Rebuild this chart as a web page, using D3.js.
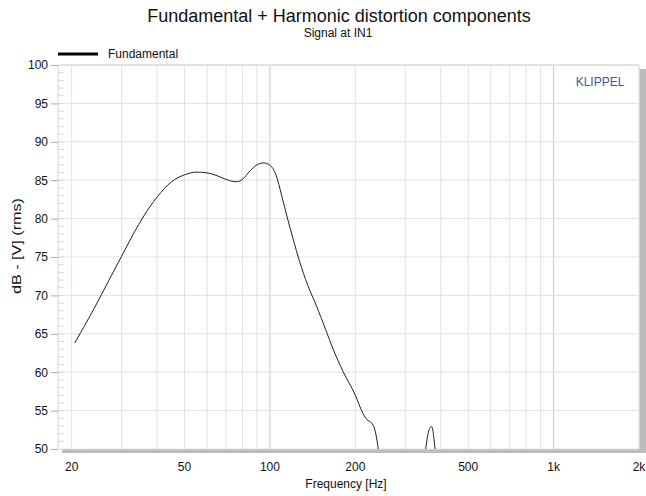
<!DOCTYPE html>
<html>
<head>
<meta charset="utf-8">
<script src="https://cdn.jsdelivr.net/npm/d3@7"></script>
<style>
	body { margin: 0; background: #fff; }
	text { font-family: "Liberation Sans", Arial, sans-serif; }
</style>
</head>
<body>
<div id="chartDiv"></div>
<script>
; (function () {

	var width = 646;
	var height = 496;
	var margin = { top: 65, right: 7, bottom: 47, left: 58 };

	var titleText = "Fundamental + Harmonic distortion components";
	var subtitleText = "Signal at IN1";
	var legendLabel = "Fundamental";
	var xAxisLabelHeader = "Frequency [Hz]";
	var yAxisLabelHeader = "dB - [V] (rms)";

	var xTicks = [20, 50, 100, 200, 500, 1000, 2000];
	var xTickLabels = ["20", "50", "100", "200", "500", "1k", "2k"];
	var yTicks = [50, 55, 60, 65, 70, 75, 80, 85, 90, 95, 100];

	// fundamental curve
	var freq = [20.5, 22, 24, 27, 30, 33, 36, 40, 45, 50, 55, 60, 66, 72, 76, 80, 85, 90, 95, 100,
		105, 110, 115, 121, 127, 136, 146, 157, 167, 181, 200, 213, 220, 228, 234, 238, 242, 250, 280, 320,
		345, 354, 362, 367, 371, 375, 379, 382, 390, 420];
	var level = [63.8, 65.8, 68.3, 71.9, 75.1, 78.0, 80.4, 82.8, 84.8, 85.7, 86.05, 85.95, 85.5, 84.95, 84.8, 85.1, 86.2, 87.0, 87.25, 86.95,
		85.7, 83.0, 80.2, 77.2, 74.5, 71.3, 68.6, 65.6, 63.0, 60.1, 57.0, 54.6, 53.8, 53.4, 52.6, 51.3, 49.5, 46.0, 40.0, 38.0,
		46.0, 50.0, 52.2, 52.8, 52.95, 52.5, 51.2, 50.0, 46.0, 38.0];

	var chart;
	var chartWidth = width - margin.left - margin.right;
	var chartHeight = height - margin.top - margin.bottom;

	chart = d3.select("#chartDiv").append("svg")
		.attr("width", width)
		.attr("height", height);

	chart.xScale = d3.scaleLog()
		.domain([17.9, 2000])
		.range([margin.left, margin.left + chartWidth]);

	chart.yScale = d3.scaleLinear()
		.domain([50, 100])
		.range([margin.top + chartHeight, margin.top]);

	var x = chart.xScale, y = chart.yScale;

	// titles
	chart.append("text")
		.attr("x", 339).attr("y", 22)
		.attr("text-anchor", "middle")
		.style("font-size", "18px")
		.attr("fill", "#111")
		.text(titleText);

	chart.append("text")
		.attr("x", 338).attr("y", 37)
		.attr("text-anchor", "middle")
		.style("font-size", "12px")
		.attr("fill", "#111")
		.text(subtitleText);

	// legend
	chart.append("line")
		.attr("x1", 58).attr("x2", 98).attr("y1", 54).attr("y2", 54)
		.attr("stroke", "#000").attr("stroke-width", 3);
	chart.append("text")
		.attr("x", 108).attr("y", 58)
		.style("font-size", "12px")
		.attr("fill", "#111")
		.text(legendLabel);

	// shadow + plot box
	chart.append("rect")
		.attr("x", margin.left + 4).attr("y", margin.top + 4)
		.attr("width", chartWidth + 4).attr("height", chartHeight)
		.attr("fill", "#bcbcbc");
	chart.append("rect")
		.attr("x", margin.left).attr("y", margin.top)
		.attr("width", chartWidth).attr("height", chartHeight)
		.attr("fill", "#fff");

	// vertical grid
	var gridFreqs = [];
	[10, 100, 1000].forEach(function (d) {
		for (var k = 1; k < 10; k++) {
			var f = d * k;
			if (f >= 20 && f <= 2000) gridFreqs.push(f);
		}
	});
	gridFreqs.push(2000);

	chart.append("g").selectAll("line")
		.data(gridFreqs)
		.join("line")
		.attr("x1", function (d) { return x(d); })
		.attr("x2", function (d) { return x(d); })
		.attr("y1", margin.top)
		.attr("y2", margin.top + chartHeight)
		.attr("stroke", function (d) { return (d === 100 || d === 1000) ? "#c8c8c8" : "#e2e2e2"; })
		.attr("stroke-width", 1);

	// horizontal grid
	chart.append("g").selectAll("line")
		.data(yTicks)
		.join("line")
		.attr("x1", margin.left)
		.attr("x2", margin.left + chartWidth)
		.attr("y1", function (d) { return y(d); })
		.attr("y2", function (d) { return y(d); })
		.attr("stroke", "#e2e2e2")
		.attr("stroke-width", 1);

	// minor y ticks
	chart.append("g").selectAll("line")
		.data(d3.range(51, 100))
		.join("line")
		.attr("x1", margin.left)
		.attr("x2", margin.left + 6)
		.attr("y1", function (d) { return y(d); })
		.attr("y2", function (d) { return y(d); })
		.attr("stroke", "#d8d8d8");

	// plot border (left/top)
	chart.append("path")
		.attr("d", "M" + margin.left + "," + (margin.top + chartHeight) + "V" + margin.top + "H" + (margin.left + chartWidth))
		.attr("fill", "none")
		.attr("stroke", "#d4d4d4");

	// y axis
	chart.yAxis = d3.axisLeft(y)
		.tickValues(yTicks)
		.tickSize(7)
		.tickPadding(3);

	var yg = chart.append("g")
		.attr("transform", "translate(" + margin.left + ",0)")
		.call(chart.yAxis);
	yg.select(".domain").remove();
	yg.selectAll("line").attr("stroke", "#aaa");
	yg.selectAll("text")
		.style("font-size", "12px")
		.style("font-family", "Liberation Sans, Arial, sans-serif")
		.attr("fill", "#111");

	// x axis labels
	chart.append("g").selectAll("text")
		.data(xTicks)
		.join("text")
		.attr("x", function (d) { return x(d); })
		.attr("y", 471)
		.attr("text-anchor", "middle")
		.style("font-size", "12px")
		.attr("fill", "#111")
		.text(function (d, i) { return xTickLabels[i]; });

	chart.append("text")
		.attr("x", 346).attr("y", 488)
		.attr("text-anchor", "middle")
		.style("font-size", "12px")
		.attr("fill", "#111")
		.text(xAxisLabelHeader);

	chart.append("text")
		.attr("text-anchor", "middle")
		.attr("transform", "translate(21," + 246 + ") rotate(-90)")
		.style("font-size", "13px")
		.attr("textLength", 96)
		.attr("lengthAdjust", "spacingAndGlyphs")
		.attr("fill", "#111")
		.text(yAxisLabelHeader);

	chart.append("text")
		.attr("x", 600).attr("y", 86)
		.attr("text-anchor", "middle")
		.style("font-size", "12px")
		.attr("fill", "#3b5aa0")
		.text("KLIPPEL");

	// curve
	chart.append("clipPath").attr("id", "plotClip")
		.append("rect")
		.attr("x", margin.left).attr("y", margin.top)
		.attr("width", chartWidth).attr("height", chartHeight);

	var line = d3.line()
		.x(function (d) { return x(d); })
		.y(function (d, i) { return y(level[i]); })
		.curve(d3.curveMonotoneX);

	chart.append("path")
		.attr("clip-path", "url(#plotClip)")
		.attr("d", line(freq))
		.attr("fill", "none")
		.attr("stroke", "#222")
		.attr("stroke-width", 1);

})();
</script>
</body>
</html>
